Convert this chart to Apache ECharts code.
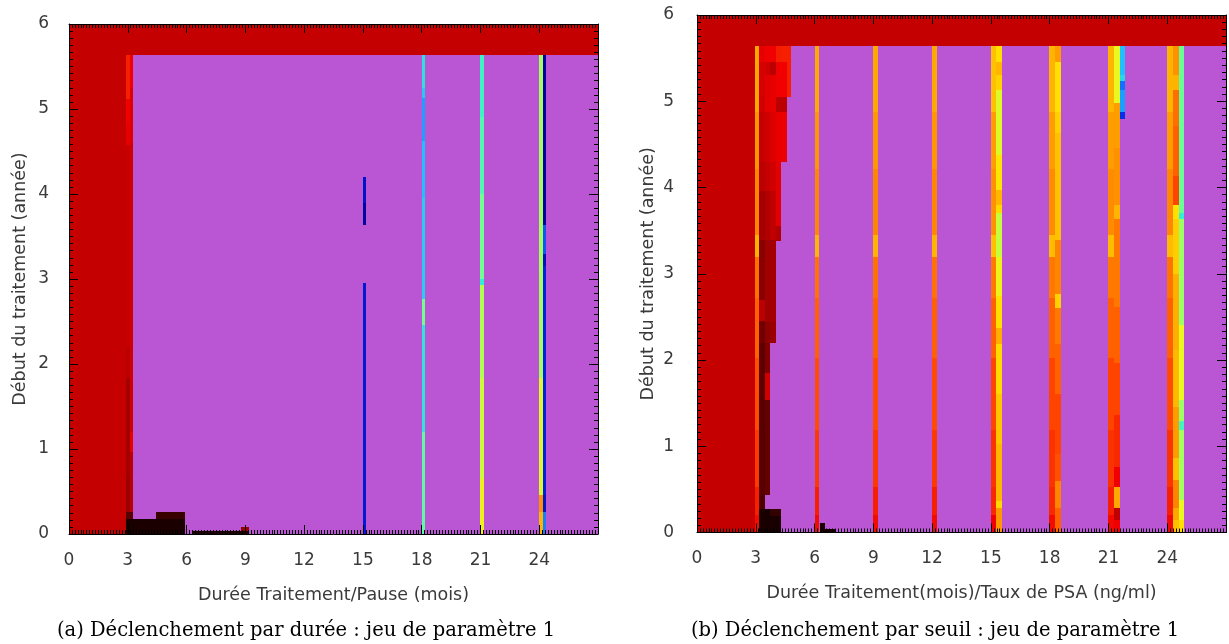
<!DOCTYPE html>
<html><head><meta charset="utf-8">
<script src="https://cdn.jsdelivr.net/npm/echarts/dist/echarts.min.js"></script>
<style>html,body{margin:0;padding:0;background:#fff}#c{width:1229px;height:644px}</style>
</head><body><div id="c"></div>
<script>
// ---------- texts & ticks ----------
const xTickLabels = ['0','3','6','9','12','15','18','21','24'];
const yTickLabels = ['0','1','2','3','4','5','6'];
const xNameA = 'Durée Traitement/Pause (mois)';
const xNameB = 'Durée Traitement(mois)/Taux de PSA (ng/ml)';
const yName = 'Début du traitement (année)';
const captionA = '(a) Déclenchement par durée : jeu de paramètre 1';
const captionB = '(b) Déclenchement par seuil : jeu de paramètre 1';

// colour level scale (0 = black ... 7 = base red ... 17 = yellow ... 25 = dark blue)
const levelColors = ['#150000','#2a0000','#480000','#640000','#800000','#9a0000','#b00000','#c40000',
  '#dc0000','#f00000','#f82800','#ff4400','#ff6000','#ff7800','#ff9000','#ffa800','#ffc000','#ffe000',
  '#e8f820','#b0ff50','#70ff90','#30f0d0','#20c0ff','#1070ff','#0020e0','#0000a0'];

// ---------- panel (a) : columns [x0, x1, [[y0, y1, level], ...]] ----------
const zoneA = [
  [0, 2.93, [[0, 5.64, 7]]],
  [0, 27, [[5.64, 6, 7]]]
];
const col3A = [
  [2.93, 3.1, [[0.26, 0.66, 5], [0.66, 1.83, 5.5], [1.83, 2.2, 6.5], [2.2, 4.58, 7.2], [4.58, 4.85, 8.5], [4.85, 5.12, 9], [5.12, 5.64, 9.8]]],
  [3.1, 3.27, [[0.26, 0.96, 6.5], [0.96, 1.2, 8.5], [1.2, 4.6, 7.4], [4.6, 5.25, 8], [5.25, 5.64, 9]]],
  [2.93, 3.27, [[0.18, 0.26, 2.5]]]
];
const floorA = [
  [2.93, 4.46, [[0, 0.18, 0.3]]],
  [4.46, 5.9, [[0, 0.18, 0.3], [0.18, 0.255, 1.5]]],
  [6.29, 8.78, [[0, 0.035, 0.5]]],
  [8.78, 9.2, [[0, 0.035, 0.5], [0.035, 0.086, 5]]]
];
const linesA = [
  [15, 15.17, [[0, 2.95, 24.2], [3.63, 3.9, 25], [3.9, 4.2, 24.4]]],
  [18, 18.17, [[0, 1.2, 20.3], [1.2, 2.46, 21.2], [2.46, 2.77, 20], [2.77, 3.95, 21.7], [3.95, 4.62, 22], [4.62, 5.13, 22.4], [5.13, 5.25, 21.8], [5.25, 5.64, 21.3]]],
  [21, 21.17, [[0, 0.65, 17.8], [0.65, 1.83, 18.5], [1.83, 2.93, 19], [2.93, 3.0, 21], [3.0, 4.0, 20], [4.0, 4.9, 20.5], [4.9, 5.64, 20.8]]],
  [24, 24.17, [[0, 0.26, 15.5], [0.26, 0.46, 14], [0.46, 1.83, 18.2], [1.83, 5.64, 19.2]]],
  [24.17, 24.34, [[0, 0.26, 22.8], [0.26, 0.46, 24.3], [0.46, 3.15, 24], [3.15, 3.3, 24.5], [3.3, 3.63, 23.3], [3.63, 5.64, 25]]]
];

// ---------- panel (b) ----------
const zoneB = [
  [0, 2.95, [[0, 5.64, 7]]],
  [0, 27, [[5.64, 6, 7]]]
];
const rowsB = [0, 0.2, 0.53, 1.19, 2.02, 2.72, 3.2, 3.45, 4.22, 4.88, 5.64];
const stripesB = [
  [2.95, 3.18, [9.3, 9.8, 10.6, 11.3, 12, 12.7, 15.5, 13.6, 14.3, 15]],
  [6, 6.24, [9.3, 9.8, 10.6, 11.3, 12, 12.7, 15.5, 13.6, 14.3, 15]],
  [9, 9.24, [9.3, 9.8, 10.6, 11.3, 12, 12.7, 15.5, 13.6, 14.3, 15]],
  [12, 12.24, [9.3, 9.8, 10.6, 11.3, 12, 12.7, 15.5, 13.6, 14.3, 15]],
  [15, 15.28, [9, 10, 10.4, 11, 12, 13, 16, 14, 14.5, 16]],
  [17.98, 18.27, [9.3, 10, 10.4, 11, 12, 13, 15.8, 13.8, 14.5, 15.5]],
  [21, 21.29, [9.2, 9.8, 10.4, 11, 12, 13, 15.8, 13.8, 14.5, 15.5]],
  [24, 24.29, [9.2, 9.8, 10.4, 11.2, 12, 12.8, 15.8, 13.6, 14.5, 15.5]]
];
const pairsB = [
  [15.28, 15.55, [[0, 0.28, 14.3], [0.28, 0.36, 16.8], [0.36, 1.03, 15.6], [1.03, 1.61, 16.2], [1.61, 2.19, 16.8], [2.19, 2.37, 15.2], [2.37, 2.74, 17], [2.74, 3.2, 17.8], [3.2, 3.7, 18.6], [3.7, 3.8, 16.8], [3.8, 3.97, 15.6], [3.97, 4.38, 17.2], [4.38, 5.13, 18.2], [5.13, 5.31, 16.6], [5.31, 5.46, 15.6], [5.46, 5.64, 17]]],
  [18.27, 18.57, [[0, 0.28, 12], [0.28, 0.6, 13.5], [0.6, 0.91, 11.4], [0.91, 1.61, 11], [1.61, 2.19, 12], [2.19, 2.6, 13], [2.6, 2.76, 16.5], [2.76, 3.39, 13.5], [3.39, 4.63, 16], [4.63, 4.88, 16.5], [4.88, 5.46, 17], [5.46, 5.64, 14.5]]],
  [21.29, 21.57, [[0, 0.145, 9], [0.145, 0.28, 6.8], [0.28, 0.53, 15], [0.53, 0.76, 9], [0.76, 1.36, 10], [1.36, 1.96, 11], [1.96, 2.62, 12], [2.62, 3.63, 13], [3.63, 3.8, 15.5], [3.8, 4.46, 14], [4.46, 4.98, 14.5], [4.98, 5.64, 18]]],
  [21.57, 21.84, [[4.8, 4.88, 23.8], [4.88, 5.13, 22.4], [5.13, 5.23, 23], [5.23, 5.31, 21.5], [5.31, 5.64, 22]]],
  [24.29, 24.58, [[0, 0.145, 16], [0.145, 0.28, 15], [0.28, 0.61, 13.5], [0.61, 0.86, 16], [0.86, 1.46, 14.5], [1.46, 2.12, 15.7], [2.12, 3.0, 15.3], [3.0, 3.63, 16.4], [3.63, 3.8, 17], [3.8, 4.13, 11], [4.13, 4.71, 12], [4.71, 5.13, 12.6], [5.13, 5.31, 15.4], [5.31, 5.64, 14]]],
  [24.58, 24.86, [[0, 0.145, 17], [0.145, 0.38, 18], [0.38, 1.19, 19.2], [1.19, 1.29, 20.7], [1.29, 1.54, 19.3], [1.54, 2.41, 18], [2.41, 3.63, 19.3], [3.63, 3.7, 21], [3.7, 5.64, 20.1]]]
];
const darkB = [
  [3.18, 3.45, [[0, 0.27, 0.3], [0.27, 0.44, 2.2], [0.44, 1.6, 2.5], [1.6, 2.2, 2.8], [2.2, 2.45, 3.5], [2.45, 2.7, 6.5], [2.7, 3.39, 4.3], [3.39, 3.96, 5.5], [3.96, 4.29, 6.5], [4.29, 4.88, 7], [4.88, 5.05, 7.5], [5.05, 5.46, 7.7], [5.46, 5.64, 8.5]]],
  [3.45, 3.73, [[0, 0.27, 0.2], [0.44, 1.54, 3], [1.54, 1.85, 7.5], [1.85, 2.2, 4], [2.2, 2.44, 4.5], [2.44, 3.39, 5.3], [3.39, 3.96, 6], [3.96, 4.29, 7], [4.29, 4.88, 7.5], [4.88, 5.31, 8.3], [5.31, 5.46, 7.5], [5.46, 5.64, 9]]],
  [3.73, 4.02, [[0, 0.19, 0.2], [0.19, 0.27, 1.3], [2.2, 2.44, 5], [2.44, 3.39, 5.5], [3.39, 3.96, 6.8], [3.96, 4.29, 7.5], [4.29, 4.88, 8], [4.88, 5.31, 8.5], [5.31, 5.46, 6.5], [5.46, 5.64, 9]]],
  [4.02, 4.3, [[0, 0.19, 0.2], [0.19, 0.27, 1.3], [3.38, 3.55, 6], [3.55, 4.29, 8.3], [4.29, 4.88, 8.6], [4.88, 5.05, 6.5], [5.05, 5.46, 9], [5.46, 5.64, 9.7]]],
  [4.3, 4.58, [[4.29, 4.88, 8.8], [4.88, 5.05, 6.5], [5.05, 5.46, 9], [5.46, 5.64, 9.8]]],
  [4.58, 4.8, [[5.05, 5.64, 9.8]]]
];
const floorB = [
  [6.27, 6.52, [[0, 0.11, 0.3]]],
  [6.52, 7.06, [[0, 0.04, 0.3]]]
];

// ---------- build cells ----------
function toCells(cols) {
  const out = [];
  cols.forEach(c => c[2].forEach(s => out.push([c[0], c[1], s[0], s[1], s[2]])));
  return out;
}
function stripeCells(cols, rows) {
  const out = [];
  cols.forEach(c => c[2].forEach((lv, i) => out.push([c[0], c[1], rows[i], rows[i + 1], lv])));
  return out;
}
const cellsA = [].concat(toCells(zoneA), toCells(col3A), toCells(floorA), toCells(linesA));
const cellsB = [].concat(toCells(zoneB), stripeCells(stripesB, rowsB), toCells(pairsB), toCells(darkB), toCells(floorB));

function renderCell(params, api) {
  const p0 = api.coord([api.value(0), api.value(3)]);
  const p1 = api.coord([api.value(1), api.value(2)]);
  const x = Math.round(p0[0]), y = Math.round(p0[1]);
  return {
    type: 'rect',
    shape: { x: x, y: y, width: Math.round(p1[0]) - x, height: Math.round(p1[1]) - y },
    style: { fill: api.visual('color') }
  };
}

const FONT = 'DejaVu Sans';
const TXT = '#3a3a3a';
const tickStyle = { color: '#000', width: 1 };
function xAxes(g, name) {
  return [{
    gridIndex: g, type: 'value', min: 0, max: 27, interval: 3, position: 'bottom', z: 10,
    axisLine: { show: true, onZero: false, lineStyle: { color: '#000', width: 1 } },
    axisTick: { show: true, inside: true, length: 9, lineStyle: tickStyle },
    minorTick: { show: true, splitNumber: 20, length: 4, lineStyle: tickStyle },
    splitLine: { show: false },
    axisLabel: { margin: 18, color: TXT, fontFamily: FONT, fontSize: 17,
      formatter: v => { const i = Math.round(v / 3); return i < xTickLabels.length ? xTickLabels[i] : ''; } },
    name: name, nameLocation: 'middle', nameGap: 52,
    nameTextStyle: { color: TXT, fontFamily: FONT, fontSize: 17.5 }
  }, {
    gridIndex: g, type: 'value', min: 0, max: 27, interval: 3, position: 'top', z: 10,
    axisLine: { show: true, onZero: false, lineStyle: { color: '#000', width: 1 } },
    axisTick: { show: true, inside: true, length: 9, lineStyle: tickStyle },
    minorTick: { show: true, splitNumber: 20, length: 4, lineStyle: tickStyle },
    splitLine: { show: false }, axisLabel: { show: false }
  }];
}
function yAxes(g, margin) {
  return [{
    gridIndex: g, type: 'value', min: 0, max: 6, interval: 1, position: 'left', z: 10,
    axisLine: { show: true, onZero: false, lineStyle: { color: '#000', width: 1 } },
    axisTick: { show: true, inside: true, length: 9, lineStyle: tickStyle },
    minorTick: { show: true, splitNumber: 12, length: 4, lineStyle: tickStyle },
    splitLine: { show: false },
    axisLabel: { margin: margin, color: TXT, fontFamily: FONT, fontSize: 17,
      formatter: v => yTickLabels[Math.round(v)] },
    name: yName, nameLocation: 'middle', nameGap: 40,
    nameTextStyle: { color: TXT, fontFamily: FONT, fontSize: 17.5 }
  }, {
    gridIndex: g, type: 'value', min: 0, max: 6, interval: 1, position: 'right', z: 10,
    axisLine: { show: true, onZero: false, lineStyle: { color: '#000', width: 1 } },
    axisTick: { show: true, inside: true, length: 9, lineStyle: tickStyle },
    minorTick: { show: true, splitNumber: 12, length: 4, lineStyle: tickStyle },
    splitLine: { show: false }, axisLabel: { show: false }
  }];
}

const chart = echarts.init(document.getElementById('c'), null, { renderer: 'canvas' });
chart.setOption({
  animation: false,
  backgroundColor: '#fff',
  grid: [
    { left: 69, top: 24, right: 631, bottom: 110, show: true, backgroundColor: '#BA55D3', borderWidth: 0 },
    { left: 697, top: 15, right: -4, bottom: 111.5, show: true, backgroundColor: '#BA55D3', borderWidth: 0 }
  ],
  xAxis: [].concat(xAxes(0, xNameA), xAxes(1, xNameB)),
  yAxis: [].concat(yAxes(0, 20), yAxes(1, 23)),
  visualMap: { type: 'continuous', show: false, min: 0, max: levelColors.length - 1, dimension: 4,
    seriesIndex: [0, 1], inRange: { color: levelColors } },
  series: [
    { type: 'custom', xAxisIndex: 0, yAxisIndex: 0, data: cellsA, renderItem: renderCell,
      encode: { x: [0, 1], y: [2, 3] }, clip: true, silent: true },
    { type: 'custom', xAxisIndex: 2, yAxisIndex: 2, data: cellsB, renderItem: renderCell,
      encode: { x: [0, 1], y: [2, 3] }, clip: true, silent: true }
  ],
  graphic: [
    { type: 'text', x: 306, y: 631, style: { text: captionA, font: '19.5px "DejaVu Serif"', fill: '#000', align: 'center', verticalAlign: 'middle', textAlign: 'center', textVerticalAlign: 'middle' } },
    { type: 'text', x: 935, y: 631, style: { text: captionB, font: '19.5px "DejaVu Serif"', fill: '#000', align: 'center', verticalAlign: 'middle', textAlign: 'center', textVerticalAlign: 'middle' } }
  ]
});
</script></body></html>
